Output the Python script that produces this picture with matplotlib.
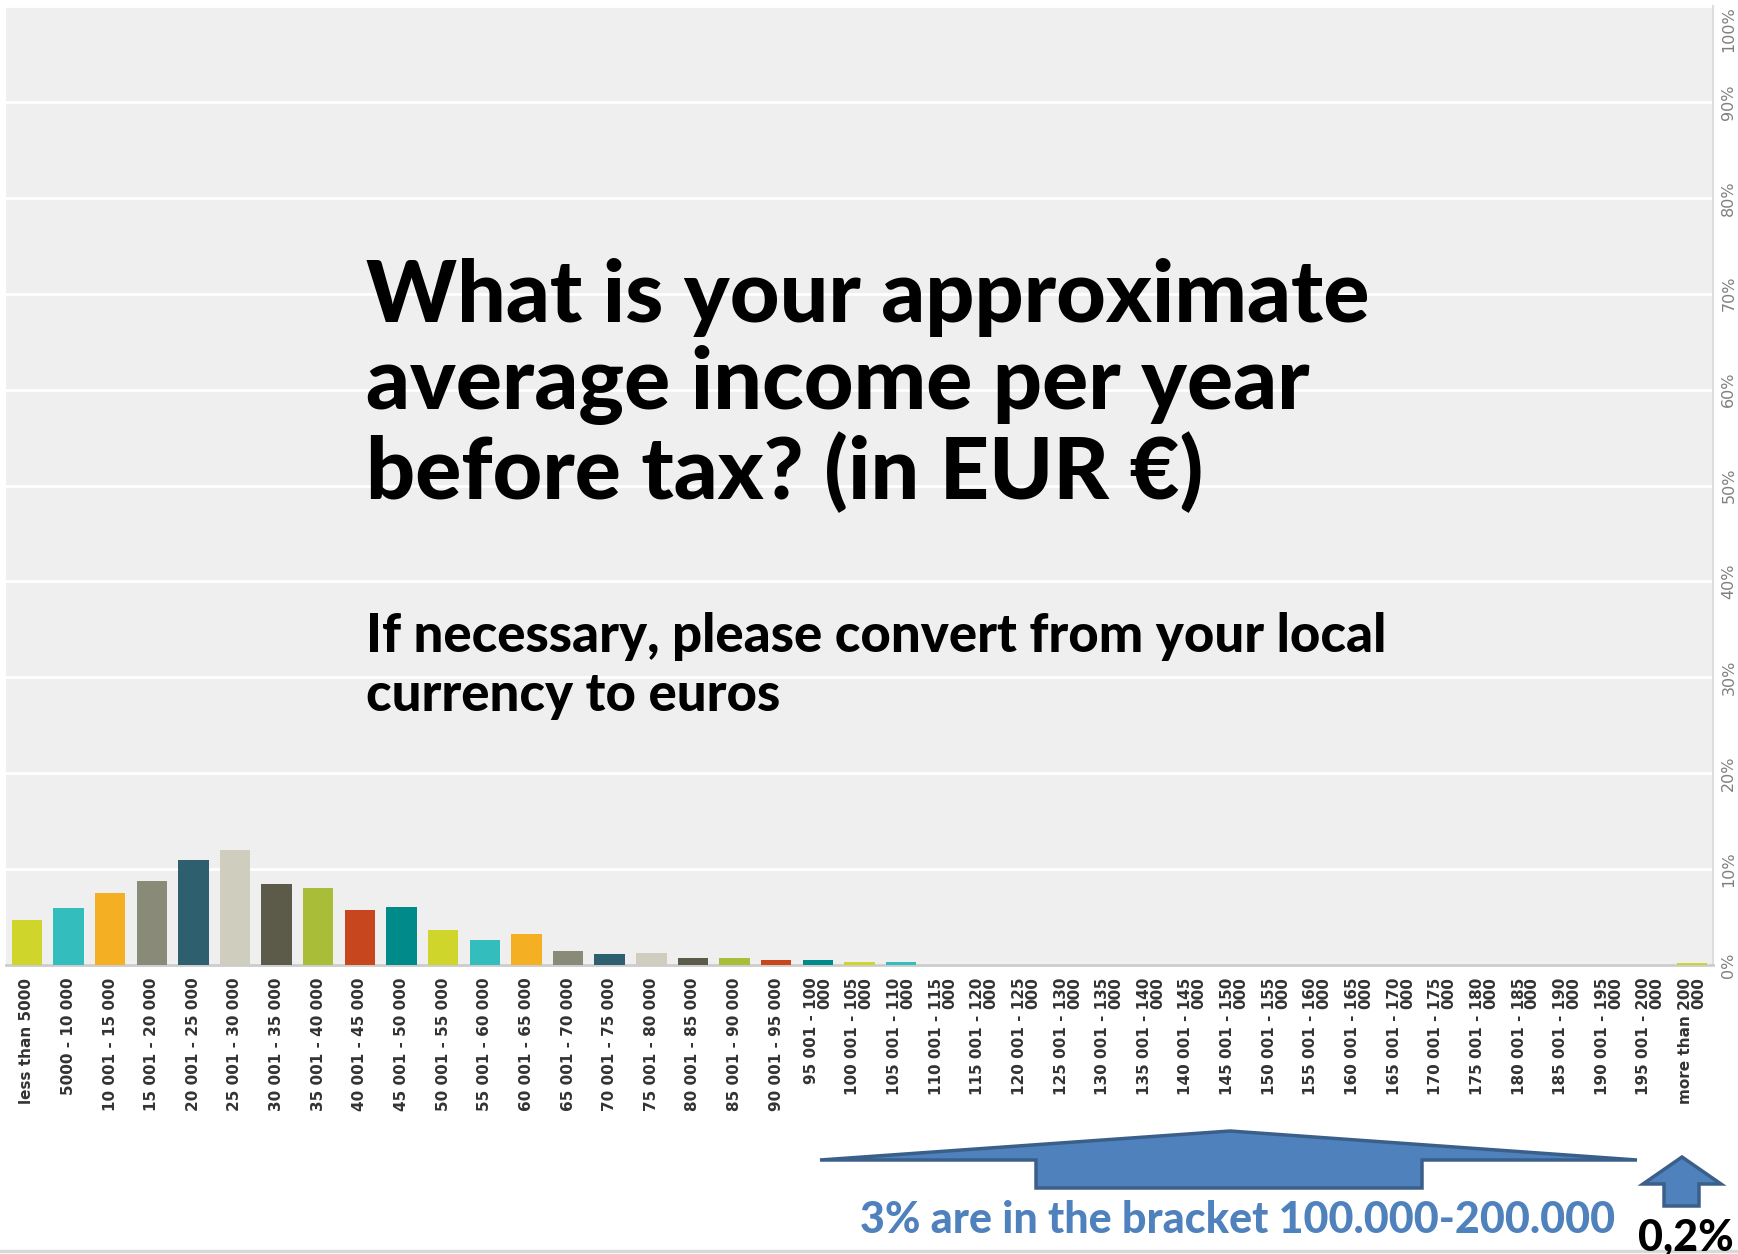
import numpy as np
import matplotlib
matplotlib.use("Agg")
import matplotlib.pyplot as plt
from matplotlib.patches import Polygon

# income brackets (EUR per year) and share of respondents in %
brackets = (["less than 5000", "5000 - 10 000"]
            + [f"{lo} 001 - {lo + 5} 000" for lo in range(10, 95, 5)]
            + [f"{lo} 001 - {lo + 5}\n000" for lo in range(95, 200, 5)]
            + ["more than 200\n000"])
share = [4.65, 5.9, 7.55, 8.8, 10.9, 11.95, 8.4, 8.0, 5.7, 6.1,
         3.6, 2.6, 3.2, 1.5, 1.1, 1.3, 0.7, 0.7, 0.5, 0.5,
         0.3, 0.3, 0, 0, 0, 0, 0, 0, 0, 0,
         0, 0, 0, 0, 0, 0, 0, 0, 0, 0,
         0.2]
palette = ["#d0d52b", "#33bdbd", "#f5af22", "#8a8a78", "#2d5f6e",
           "#cfcebe", "#5c5b4a", "#a9bd38", "#c7461d", "#008b8a"]
yticks = list(range(0, 101, 10))

title = "What is your approximate\naverage income per year\nbefore tax? (in EUR €)"
subtitle = "If necessary, please convert from your local\ncurrency to euros"
note = "3% are in the bracket 100.000-200.000"
top_note = "0,2%"

W, H = 1738, 1254
fig = plt.figure(figsize=(W / 100, H / 100), dpi=100)


def fx(x):
    return x / W


def fy(y):
    return 1 - y / H


ax = fig.add_axes([fx(6), fy(965), fx(1713) - fx(6), fy(6) - fy(965)])
ax.set_facecolor("#efefef")

x = np.arange(len(brackets))
colors = [palette[i % len(palette)] for i in range(len(brackets))]
ax.bar(x, share, width=0.73, color=colors, zorder=3)

ax.set_xlim(-0.5, len(brackets) - 0.5)
ax.set_ylim(0, 100)
ax.set_yticks(yticks)
ax.set_yticklabels([f"{t}%" for t in yticks], rotation=90, va="center",
                   color="#7f7f7f", fontsize=11.5)
ax.yaxis.tick_right()
ax.tick_params(axis="y", length=0, pad=6)
ax.grid(axis="y", color="white", linewidth=2, zorder=1)

ax.set_xticks(x)
ax.set_xticklabels(brackets, rotation=90, va="top", ha="center",
                   multialignment="right", fontsize=11, fontweight="bold",
                   color="#333333", linespacing=0.85)
ax.tick_params(axis="x", length=0, pad=9)

for side in ["left", "top"]:
    ax.spines[side].set_visible(False)
ax.spines["bottom"].set_color("#cccccc")
ax.spines["bottom"].set_linewidth(2)
ax.spines["right"].set_color("#dddddd")
ax.spines["right"].set_linewidth(1.5)

# keep the 100% label inside the figure: hang it below its tick
fig.canvas.draw()
ax.yaxis.get_major_ticks()[-1].label2.set_va("top")

# question text over the chart
fig.text(fx(366), fy(258), title, fontsize=62, fontweight="black",
         family=["Lato", "DejaVu Sans"], va="top", ha="left", linespacing=1.12)
fig.text(fx(366), fy(612), subtitle, fontsize=38, fontweight="black",
         family=["Lato", "DejaVu Sans"], va="top", ha="left", linespacing=1.24)

# arrows below the axis
big_arrow = [(820, 1160), (1230, 1131), (1637, 1160), (1422, 1160),
             (1422, 1188), (1036, 1188), (1036, 1160)]
small_arrow = [(1643, 1184), (1682, 1157), (1721, 1184), (1699, 1184),
               (1699, 1206), (1664, 1206), (1664, 1184)]
for pts in (big_arrow, small_arrow):
    fig.patches.append(Polygon([(fx(a), fy(b)) for a, b in pts], closed=True,
                               transform=fig.transFigure, facecolor="#4f81bd",
                               edgecolor="#3a5f8a", linewidth=2.5, joinstyle="miter"))

fig.text(fx(1238), fy(1233), note, fontsize=31, fontweight="black",
         family=["Lato", "DejaVu Sans"], color="#4f81bd",
         ha="center", va="baseline")
fig.text(fx(1686), fy(1251), top_note, fontsize=31, fontweight="black",
         family=["Lato", "DejaVu Sans"], color="black", ha="center", va="baseline")

fig.add_artist(plt.Line2D([0, 1], [fy(1251), fy(1251)], transform=fig.transFigure,
                          color="#d9d9d9", linewidth=2.5))

fig.savefig("out.png", dpi=100, facecolor="white")
